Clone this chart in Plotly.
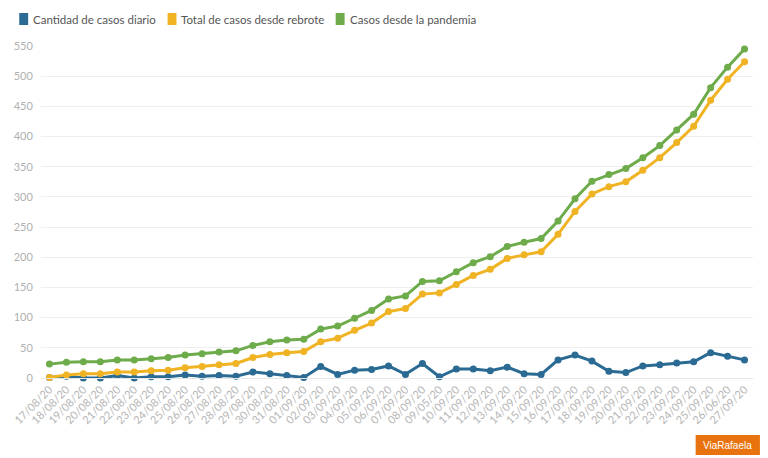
import plotly.graph_objects as go

dates = ["17/08/20", "18/08/20", "19/08/20", "20/08/20", "21/08/20", "22/08/20", "23/08/20",
         "24/08/20", "25/08/20", "26/08/20", "27/08/20", "28/08/20", "29/08/20", "30/08/20",
         "31/08/20", "01/09/20", "02/09/20", "03/09/20", "04/09/20", "05/09/20", "06/09/20",
         "07/09/20", "08/09/20", "09/05/20", "10/09/20", "11/09/20", "12/09/20", "13/09/20",
         "14/09/20", "15/09/20", "16/09/20", "17/09/20", "18/09/20", "19/09/20", "20/09/20",
         "21/09/20", "22/09/20", "23/09/20", "24/09/20", "25/09/20", "26/06/20", "27/09/20"]

diarios = [1, 3, 0, 0, 4, 0, 2, 2, 5, 3, 4, 3, 10, 7, 4, 1, 19, 6, 13, 14, 20,
           6, 24, 2, 15, 15, 12, 18, 7, 6, 30, 38, 28, 11, 9, 20, 22, 25, 27, 42, 36, 30]

rebrote = [1, 5, 7, 7, 10, 10, 12, 13, 17, 19, 22, 24, 34, 39, 42, 44, 60, 66, 79, 91, 110,
           115, 139, 141, 155, 170, 180, 198, 204, 209, 238, 276, 305, 317, 325, 344, 365, 390, 417, 460, 495, 524]

pandemia = [23, 26, 27, 27, 30, 30, 32, 34, 38, 40, 43, 45, 54, 60, 63, 64, 81, 86, 99, 112, 131,
            136, 160, 161, 176, 191, 201, 218, 225, 231, 260, 297, 326, 337, 347, 365, 385, 411, 437, 481, 515, 545]

series_names = ["Cantidad de casos diario", "Total de casos desde rebrote", "Casos desde la pandemia"]
colors = ["#2A6A93", "#EFB324", "#6DAB4B"]
y_ticks = list(range(0, 551, 50))

W, H = 768, 458
ML, MR, MT, MB = 33, 15, 46, 80
PW, PH = W - ML - MR, H - MT - MB


def px2x(px):
    return (px - ML) / PW


def py2y(py):
    return (H - MB - py) / PH


fig = go.Figure()
for name, vals, col in zip(series_names, [diarios, rebrote, pandemia], colors):
    fig.add_trace(go.Scatter(
        x=dates, y=vals, name=name, mode="lines+markers",
        line=dict(color=col, width=3),
        marker=dict(color=col, size=7),
        cliponaxis=False, showlegend=False,
    ))

# custom legend (squares + labels)
leg_text_x = [23, 173, 343]
shapes = []
annotations = []
for name, col, tx in zip(series_names, colors, leg_text_x):
    shapes.append(dict(type="rect", xref="paper", yref="paper",
                       x0=px2x(tx - 12), x1=px2x(tx - 3), y0=py2y(25), y1=py2y(13),
                       fillcolor=col, line=dict(width=0)))
    annotations.append(dict(text=name, xref="paper", yref="paper", x=px2x(tx), y=py2y(19),
                            xanchor="left", yanchor="middle", showarrow=False,
                            font=dict(family="Lato, sans-serif", size=11.5, color="#555555")))

# watermark
shapes.append(dict(type="rect", xref="paper", yref="paper",
                   x0=px2x(695), x1=px2x(760), y0=py2y(455), y1=py2y(435),
                   fillcolor="#E8730E", line=dict(width=0)))
annotations.append(dict(text="ViaRafaela", xref="paper", yref="paper",
                        x=px2x(727.5), y=py2y(445), xanchor="center", yanchor="middle",
                        showarrow=False, font=dict(family="Liberation Sans, Arial", size=10, color="#ffffff")))

fig.update_layout(
    width=W, height=H,
    margin=dict(l=ML, r=MR, t=MT, b=MB),
    paper_bgcolor="white", plot_bgcolor="white",
    showlegend=False,
    shapes=shapes, annotations=annotations,
    font=dict(family="Lato, sans-serif"),
)
fig.update_xaxes(
    type="category", range=[-0.5, len(dates) - 0.5],
    tickangle=-45, tickfont=dict(size=11, color="#b5b5b5"),
    showgrid=False, showline=True, linecolor="#e6e6e6", linewidth=1,
    ticks="", zeroline=False,
)
fig.update_yaxes(
    range=[0, 550], tickvals=y_ticks, ticktext=[str(v) for v in y_ticks],
    tickfont=dict(size=11, color="#b0b0b0"),
    showgrid=True, gridcolor="#eeeeee", gridwidth=1,
    zeroline=False, showline=False,
    ticks="outside", ticklen=5, tickcolor="rgba(0,0,0,0)",
)

fig.write_html("out.html", config={"displayModeBar": False},
               post_script="document.body.style.margin='0';document.body.style.overflow='hidden';")
